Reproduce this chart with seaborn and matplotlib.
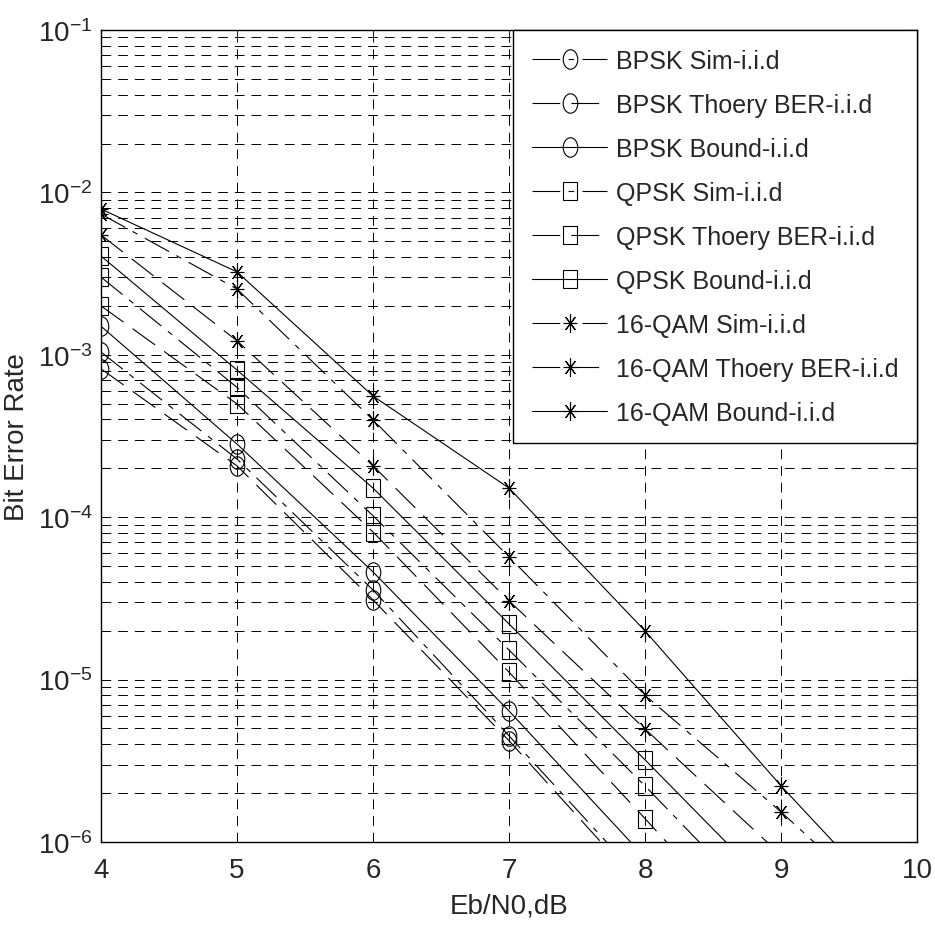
import numpy as np
import pandas as pd
import matplotlib
matplotlib.use("Agg")
import matplotlib.pyplot as plt
from matplotlib.markers import MarkerStyle
from matplotlib.transforms import Affine2D
import seaborn as sns

# Eb/N0 values (dB) and BER
snr = [4, 5, 6, 7, 8, 9, 10]

bpsk_sim = [1.04e-3, 2.28e-4, 3.56e-5, 4.5e-6, 5.5e-7]
bpsk_theory = [8.2e-4, 2.07e-4, 3.09e-5, 4.2e-6, 5.0e-7]
bpsk_bound = [1.5e-3, 2.82e-4, 4.6e-5, 6.4e-6, 8.0e-7]

qpsk_sim = [3.01e-3, 6.3e-4, 1.02e-4, 1.52e-5, 2.21e-6, 3.0e-7]
qpsk_theory = [2.0e-3, 4.98e-4, 8.1e-5, 1.11e-5, 1.39e-6, 1.7e-7]
qpsk_bound = [4.06e-3, 8.05e-4, 1.51e-4, 2.2e-5, 3.2e-6, 4.5e-7]

qam_sim = [7.36e-3, 2.54e-3, 3.97e-4, 5.69e-5, 8.0e-6, 1.53e-6, 2.6e-7]
qam_theory = [5.47e-3, 1.22e-3, 2.07e-4, 3.05e-5, 4.96e-6, 8.3e-7]
qam_bound = [7.9e-3, 3.24e-3, 5.57e-4, 1.51e-4, 1.99e-5, 2.21e-6, 2.8e-7]

labels = ["BPSK Sim-i.i.d", "BPSK Thoery BER-i.i.d", "BPSK Bound-i.i.d",
          "QPSK Sim-i.i.d", "QPSK Thoery BER-i.i.d", "QPSK Bound-i.i.d",
          "16-QAM Sim-i.i.d", "16-QAM Thoery BER-i.i.d", "16-QAM Bound-i.i.d"]
series = [bpsk_sim, bpsk_theory, bpsk_bound,
          qpsk_sim, qpsk_theory, qpsk_bound,
          qam_sim, qam_theory, qam_bound]

sns.set_style("white")
plt.rcParams["font.family"] = ["Liberation Sans", "DejaVu Sans"]
plt.rcParams["mathtext.default"] = "regular"
plt.rcParams["lines.scale_dashes"] = False

squash = Affine2D().scale(0.75, 1.0)
circ = MarkerStyle("o", transform=squash)
sq = MarkerStyle("s", transform=squash)
ast = MarkerStyle((8, 2, 0), transform=squash)
markers = [circ] * 3 + [sq] * 3 + [ast] * 3
msizes = [14] * 3 + [13] * 3 + [13] * 3
styles = [(0, (20, 6, 4, 6)), (0, (20, 8)), "-"] * 3

fig = plt.figure(figsize=(9.35, 9.28), dpi=100)
ax = fig.add_axes([0.108, 0.0916, 0.873, 0.875])

for lab, vals, mk, ms, ls in zip(labels, series, markers, msizes, styles):
    df = pd.DataFrame({"snr": snr[:len(vals)], "ber": vals})
    sns.lineplot(data=df, x="snr", y="ber", ax=ax, color="k", linewidth=0.8,
                 linestyle=ls, marker=mk, markersize=ms, markerfacecolor="none",
                 markeredgecolor="k", markeredgewidth=0.8, label=lab,
                 errorbar=None, sort=False)

ax.set_yscale("log")
ax.set_xlim(4, 10)
ax.set_ylim(1e-6, 1e-1)
ax.set_xticks(snr)
ax.grid(True, which="major", axis="both", color="k", linestyle=(0, (7, 5)), linewidth=0.7)
ax.grid(True, which="minor", axis="y", color="k", linestyle=(0, (7, 5)), linewidth=0.7)
ax.tick_params(which="both", direction="in", top=True, right=True, labelsize=20)
ax.tick_params(axis="x", pad=11)
ax.tick_params(axis="y", pad=6)
ax.tick_params(which="major", length=7)
ax.tick_params(which="minor", length=4)
for s in ax.spines.values():
    s.set_color("k")
    s.set_linewidth(1.0)

ax.set_xlabel("Eb/N0,dB", fontsize=20, labelpad=7)
ax.set_ylabel("Bit Error Rate", fontsize=20)
ax.yaxis.set_label_coords(-0.087, 0.5)

leg = ax.legend(loc="upper right", fontsize=18, frameon=True, fancybox=False,
                edgecolor="k", framealpha=1, borderaxespad=0, handlelength=3.0,
                handletextpad=0.35, labelspacing=0.8, borderpad=0.75)
leg.get_frame().set_linewidth(1.0)

fig.savefig("out.png", dpi=100)
